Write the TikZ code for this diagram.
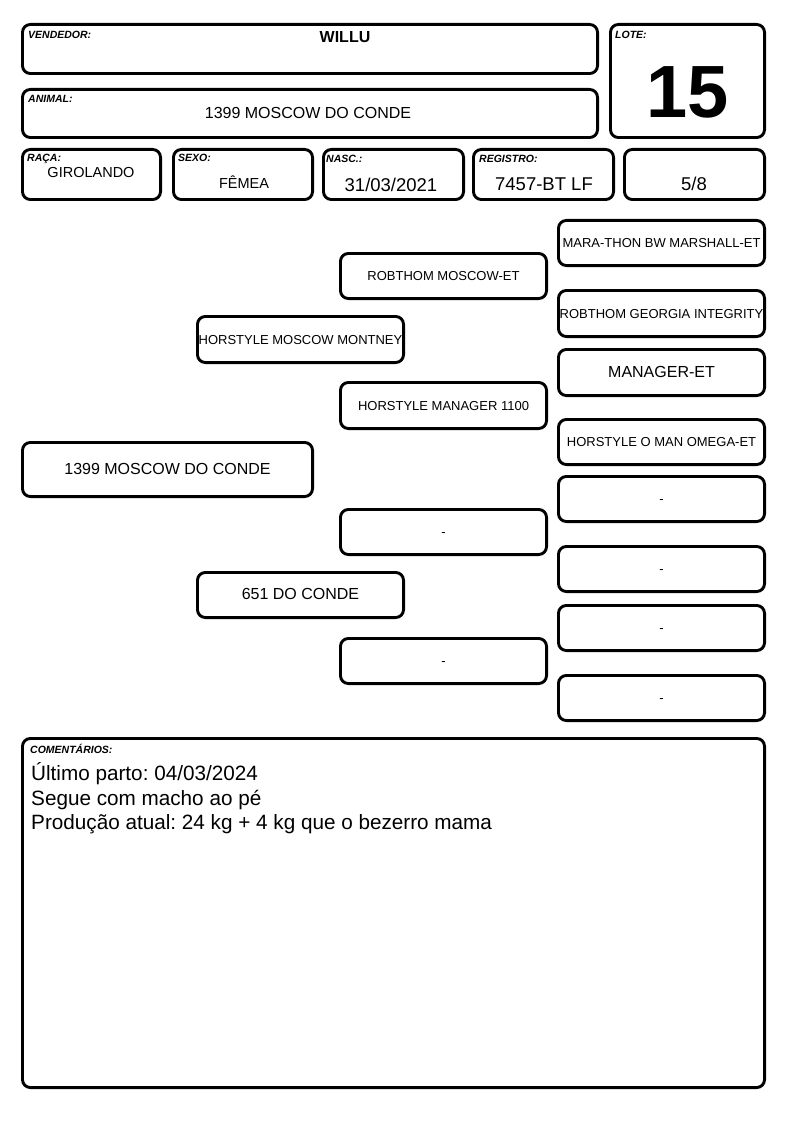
\documentclass[tikz,border=0pt]{standalone}
\usepackage{fontspec}
\setmainfont{Liberation Sans}
\frenchspacing
\tikzset{
  box/.style={draw, line width=2.9pt, rounded corners=8pt, inner sep=0pt, align=center},
  lbl/.style={anchor=base west, inner sep=0pt, font=\fontsize{10.5}{12}\selectfont\bfseries\itshape},
  val/.style={anchor=base, inner sep=0pt},
  com/.style={anchor=base west, inner sep=0pt, font=\fontsize{20.7}{24.5}\selectfont},
}
\newcommand\pedbox[7]{%
  \node[box, minimum width={#4pt-#2pt-2.9pt}, minimum height={#5pt-#3pt-2.9pt}, font=\fontsize{#6}{#6}\selectfont,
    text height=0.98em, text depth=0pt]
    (#1) at ({(#2+#4)/2},{(#3+#5)/2}) {#7};}
\begin{document}
\begin{tikzpicture}[x=1pt,y=-1pt]
\useasboundingbox[fill=white] (0,0) rectangle (794,1123);
% header boxes
\pedbox{vend}{21}{23}{599}{75}{10}{}
\pedbox{anim}{21}{88}{599}{139}{10}{}
\pedbox{lote}{609}{23}{766}{139}{10}{}
\pedbox{raca}{21}{148}{162}{201}{10}{}
\pedbox{sexo}{172}{148}{314}{201}{10}{}
\pedbox{nasc}{322}{148}{465}{201}{10}{}
\pedbox{reg}{472}{148}{615}{201}{10}{}
\pedbox{grau}{623}{148}{766}{201}{10}{}
% labels
\node[lbl] (lvend) at (28,39) {VENDEDOR:};
\node[lbl] (lanim) at (28,103) {ANIMAL:};
\node[lbl] (llote) at (615,39) {LOTE:};
\node[lbl] (lraca) at (27,162) {RAÇA:};
\node[lbl] (lsexo) at (178,162) {SEXO:};
\node[lbl] (lnasc) at (326,163) {NASC.:};
\node[lbl] (lreg) at (479,163) {REGISTRO:};
% values
\node[val, font=\fontsize{16}{18}\selectfont\bfseries] (tvend) at (345,43) {WILLU};
\node[val, font=\fontsize{16}{18}\selectfont] (tanim) at (308,119) {1399 MOSCOW DO CONDE};
\node[val, font=\fontsize{74}{80}\selectfont\bfseries] (tlote) at (688,118) {15};
\node[val, font=\fontsize{14.5}{16}\selectfont] (traca) at (91,178) {GIROLANDO};
\node[val, font=\fontsize{14.5}{16}\selectfont] (tsexo) at (244,189) {FÊMEA};
\node[val, font=\fontsize{18.5}{20}\selectfont] (tnasc) at (391,192) {31/03/2021};
\node[val, font=\fontsize{18.5}{20}\selectfont] (treg) at (544,191) {7457-BT LF};
\node[val, font=\fontsize{18.5}{20}\selectfont] (tgrau) at (694,191) {5/8};
% pedigree
\pedbox{main}{21}{441}{314}{498}{16}{1399 MOSCOW DO CONDE}
\pedbox{pai}{196}{315}{405}{364}{13}{HORSTYLE MOSCOW MONTNEY}
\pedbox{mae}{196}{571}{405}{619}{16}{651 DO CONDE}
\pedbox{avp}{339}{252}{548}{300}{13}{ROBTHOM MOSCOW-ET}
\pedbox{avmp}{339}{381}{548}{430}{13}{HORSTYLE MANAGER 1100}
\pedbox{avpm}{339}{508}{548}{556}{13}{-}
\pedbox{avmm}{339}{637}{548}{685}{13}{-}
\pedbox{b1}{557}{219}{766}{267}{13}{MARA-THON BW MARSHALL-ET}
\pedbox{b2}{557}{289}{766}{338}{13}{ROBTHOM GEORGIA INTEGRITY}
\pedbox{b3}{557}{348}{766}{397}{16}{MANAGER-ET}
\pedbox{b4}{557}{418}{766}{466}{13}{HORSTYLE O MAN OMEGA-ET}
\pedbox{b5}{557}{475}{766}{523}{13}{-}
\pedbox{b6}{557}{545}{766}{593}{13}{-}
\pedbox{b7}{557}{604}{766}{652}{13}{-}
\pedbox{b8}{557}{674}{766}{722}{13}{-}
% comments
\pedbox{com}{21}{737}{766}{1089}{10}{}
\node[lbl] (lcom) at (30,753) {COMENTÁRIOS:};
\node[com] (tcom1) at (31,780) {Último parto: 04/03/2024};
\node[com] (tcom2) at (31,805) {Segue com macho ao pé};
\node[com] (tcom3) at (31,829) {Produção atual: 24 kg + 4 kg que o bezerro mama};
\end{tikzpicture}
\end{document}
